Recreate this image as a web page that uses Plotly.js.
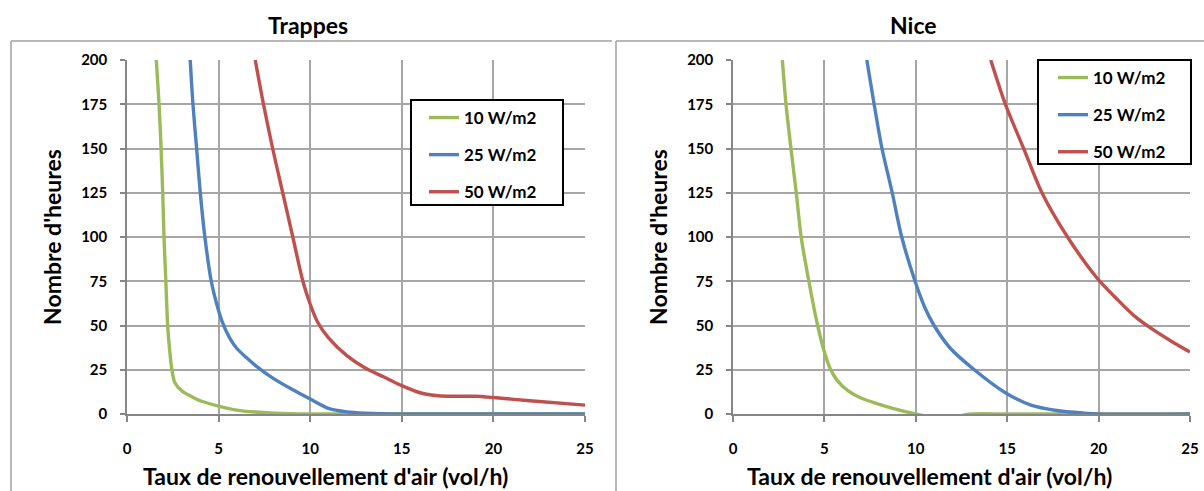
<!DOCTYPE html>
<html>
<head>
<meta charset="utf-8">
<script src="https://cdn.plot.ly/plotly-3.0.1.min.js"></script>
<style>html,body{margin:0;padding:0;background:#fff;}#chart{width:1204px;height:491px;}</style>
</head>
<body>
<div id="chart"></div>
<script>
// ---- Data ----
const seriesNames = ["10 W/m2", "25 W/m2", "50 W/m2"];
const chartTitles = ["Trappes", "Nice"];
const xTitle = "Taux de renouvellement d'air (vol/h)";
const yTitle = "Nombre d'heures";

// Trappes
const trappes10x = [1.6, 1.75, 1.86, 1.95, 2.02, 2.12, 2.22, 2.32, 2.45, 2.6, 3, 3.5, 4, 5, 6, 7, 8, 10, 15, 25];
const trappes10y = [200, 175, 150, 125, 100, 75, 50, 37, 25, 18, 13, 10, 7.5, 4.5, 2.2, 1.1, 0.5, 0, 0, 0];
const trappes25x = [3.45, 3.6, 3.8, 4.0, 4.25, 4.6, 4.9, 5.2, 5.6, 6, 6.5, 7, 8, 9, 10, 11, 12, 13, 15, 25];
const trappes25y = [200, 175, 150, 125, 100, 75, 62, 52, 43, 37, 32, 27.5, 20, 14, 8.5, 3.2, 1.2, 0.5, 0, 0];
const trappes50x = [7.0, 7.45, 7.95, 8.5, 9.05, 9.6, 10.0, 10.4, 11, 12, 13, 14, 15, 16, 17, 18, 19, 20, 22, 25];
const trappes50y = [200, 175, 150, 125, 100, 75, 62, 52, 43, 33, 26, 21, 16, 12, 10.3, 10, 10, 9.3, 7.5, 5];

// Nice
const nice10x = [2.7, 2.9, 3.17, 3.46, 3.73, 4.15, 4.63, 5.0, 5.3, 5.7, 6.3, 7, 8, 9, 10, 11, 12, 13, 15, 20, 25];
const nice10y = [200, 175, 150, 125, 100, 75, 50, 35, 26, 19, 13, 9, 5.5, 2.5, 0, -2, -2, 0, 0, 0, 0];
const nice25x = [7.32, 7.72, 8.15, 8.71, 9.23, 9.96, 10.5, 11.0, 11.9, 13.2, 14.9, 16.3, 17.7, 19.2, 20, 25];
const nice25y = [200, 175, 150, 125, 100, 75, 60, 50, 37, 25, 12, 5, 2, 0.5, 0, 0];
const nice50x = [14.1, 14.9, 15.9, 16.9, 18.3, 19.9, 21, 22, 23, 24, 25];
const nice50y = [200, 175, 150, 125, 100, 77, 65, 55, 47.5, 41, 35];

const colors = ["#9BBB59", "#4F81BD", "#C0504D"];

// ---- Layout helpers (pixel -> paper) ----
const W = 1204, H = 491;
const px = v => v / W;
const py = v => 1 - v / H;

const FONT = "Lato, 'Open Sans', sans-serif";

function mkTrace(x, y, i, xa, ya, leg) {
  return {
    x: x, y: y, type: "scatter", mode: "lines",
    name: seriesNames[i], legendgroup: leg + i, legend: leg,
    xaxis: xa, yaxis: ya,
    line: {color: colors[i], width: 3.4, shape: "spline", smoothing: 0.8},
    hoverinfo: "x+y"
  };
}

const traces = [
  mkTrace(trappes10x, trappes10y, 0, "x", "y", "legend"),
  mkTrace(trappes25x, trappes25y, 1, "x", "y", "legend"),
  mkTrace(trappes50x, trappes50y, 2, "x", "y", "legend"),
  mkTrace(nice10x, nice10y, 0, "x2", "y2", "legend2"),
  mkTrace(nice25x, nice25y, 1, "x2", "y2", "legend2"),
  mkTrace(nice50x, nice50y, 2, "x2", "y2", "legend2")
];

const tickFont = {family: FONT, size: 15, color: "#000", weight: "bold"};
const titleFont = {family: FONT, size: 23, color: "#000", weight: "bold"};

function xAxis(d0, d1, anchor) {
  return {
    domain: [px(d0), px(d1)], anchor: anchor, range: [0, 25], tickmode: "linear", tick0: 0, dtick: 5,
    showgrid: true, gridcolor: "#a6a6a6", gridwidth: 1.5,
    showline: true, linecolor: "#868686", linewidth: 1.5,
    ticks: "outside", ticklen: 6, tickcolor: "#868686", tickwidth: 1.5,
    zeroline: false, tickfont: tickFont, ticklabelstandoff: 14,
    fixedrange: true
  };
}
function yAxis(anchor) {
  return {
    domain: [py(414), py(60)], anchor: anchor, range: [0, 200], tickmode: "linear", tick0: 0, dtick: 25,
    showgrid: true, gridcolor: "#a6a6a6", gridwidth: 1.5,
    showline: true, linecolor: "#868686", linewidth: 1.5,
    ticks: "outside", ticklen: 5, tickcolor: "#868686", tickwidth: 1.5,
    zeroline: false, tickfont: tickFont, ticklabelstandoff: 10,
    title: {text: yTitle, font: titleFont, standoff: 13},
    fixedrange: true
  };
}

const legendBase = {
  font: {family: FONT, size: 17, color: "#000", weight: "bold"},
  bgcolor: "rgba(0,0,0,0)", borderwidth: 0,
  xanchor: "left", yanchor: "top", tracegroupgap: 12,
  traceorder: "grouped"
};

function ann(text, x, y, size) {
  return {text: text, x: px(x), y: py(y), xref: "paper", yref: "paper", showarrow: false,
          xanchor: "center", yanchor: "middle", font: {family: FONT, size: size, color: "#000", weight: "bold"}};
}
function legendBox(x0, y0, x1, y1) {
  return {type: "rect", xref: "paper", yref: "paper", layer: "above",
          x0: px(x0), x1: px(x1), y0: py(y1), y1: py(y0),
          fillcolor: "#fff", line: {color: "#000", width: 2}};
}

const frameColor = "#a0a0a0";
const layout = {
  width: W, height: H,
  margin: {l: 0, r: 0, t: 0, b: 0},
  paper_bgcolor: "#fff", plot_bgcolor: "#fff",
  showlegend: true,
  xaxis: xAxis(127, 585, "y"),
  yaxis: yAxis("x"),
  xaxis2: xAxis(733, 1190, "y2"),
  yaxis2: yAxis("x2"),
  legend: Object.assign({}, legendBase, {x: px(424), y: py(100)}),
  legend2: Object.assign({}, legendBase, {x: px(1053), y: py(60)}),
  annotations: [
    ann(chartTitles[0], 308, 25, 23),
    ann(chartTitles[1], 913, 25, 23),
    ann(xTitle, 325, 476, 23),
    ann(xTitle, 929, 476, 23)
  ],
  shapes: [
    {type: "line", xref: "paper", yref: "paper", x0: px(11), x1: px(612), y0: py(41), y1: py(41), line: {color: frameColor, width: 1.5}},
    {type: "line", xref: "paper", yref: "paper", x0: px(11), x1: px(11), y0: py(41), y1: py(491), line: {color: frameColor, width: 1.5}},
    {type: "line", xref: "paper", yref: "paper", x0: px(616), x1: px(1204), y0: py(41), y1: py(41), line: {color: frameColor, width: 1.5}},
    {type: "line", xref: "paper", yref: "paper", x0: px(616), x1: px(616), y0: py(41), y1: py(491), line: {color: frameColor, width: 1.5}},
    legendBox(411, 100, 563, 205),
    legendBox(1038, 60, 1191, 164)
  ]
};

Plotly.newPlot("chart", traces, layout, {displayModeBar: false, staticPlot: false});
</script>
</body>
</html>
